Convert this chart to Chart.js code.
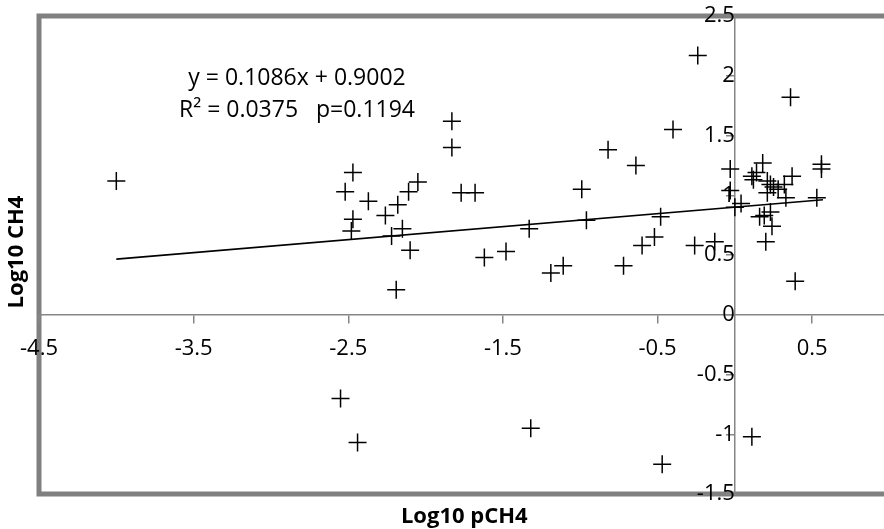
<!DOCTYPE html>
<html>
<head>
<meta charset="utf-8">
<script src="https://cdn.jsdelivr.net/npm/chart.js@4/dist/chart.umd.min.js"></script>
<style>
html,body{margin:0;padding:0;background:#fff;overflow:hidden;}
#wrap{width:884px;height:529px;overflow:hidden;}
</style>
</head>
<body>
<div id="wrap"><canvas id="ch4Chart" width="900" height="529"></canvas></div>
<script>
// log10 pCH4 (x) against log10 CH4 (y), one entry per sample
const logPCH4 = [
  -4.00,
  -2.52, -2.47, -2.37, -2.47, -2.48, -2.26, -2.18, -2.11, -2.05, -2.15, -2.22, -2.10, -2.19,
  -1.83, -1.83, -1.77, -1.68, -1.62, -1.48, -1.33, -1.19, -1.11, -0.99, -0.96, -0.82,
  -0.72, -0.64, -0.60, -0.52, -0.48, -0.40, -0.24, -0.26, -0.13, -0.03, -0.03, 0.00, 0.04,
  0.11, 0.12, 0.14, 0.18, 0.21, 0.23, 0.25, 0.21, 0.28, 0.32, 0.33, 0.37,
  0.19, 0.23, 0.24, 0.20, 0.16, 0.36, 0.39, 0.53, 0.56, 0.56,
  -2.55, -2.44, -1.32, -0.47, 0.11
];
const logCH4 = [
  1.12,
  1.03, 1.19, 0.95, 0.80, 0.70, 0.83, 0.92, 1.03, 1.11, 0.72, 0.66, 0.54, 0.21,
  1.62, 1.40, 1.02, 1.02, 0.48, 0.53, 0.72, 0.35, 0.41, 1.05, 0.79, 1.38,
  0.41, 1.25, 0.58, 0.65, 0.82, 1.55, 2.17, 0.58, 0.61, 1.22, 1.04, 0.90, 0.93,
  1.16, 1.13, 1.19, 1.27, 1.12, 1.09, 1.07, 1.02, 1.05, 1.09, 0.98, 1.16,
  0.83, 0.86, 0.74, 0.61, 0.82, 1.82, 0.28, 0.98, 1.26, 1.22,
  -0.70, -1.07, -0.95, -1.25, -1.02
];

const xTicks = [-4.5, -3.5, -2.5, -1.5, -0.5, 0.5];
const yTicks = [-1.5, -1, -0.5, 0, 0.5, 1, 1.5, 2, 2.5];

// linear fit, as printed on the chart
const slope = 0.1086;
const intercept = 0.9002;
const rSquared = 0.0375;
const pValue = 0.1194;
const trendX = [-4.0, 0.57];

const FONT = "'Open Sans', sans-serif";
const AXIS_GREY = '#868686';

const points = logPCH4.map((x,i)=>({x, y:logCH4[i]}));
const trend = trendX.map(x=>({x, y:slope*x+intercept}));

const frame = {
  id:'frame',
  beforeDraw(chart){
    const {ctx, chartArea:a} = chart;
    ctx.save();
    ctx.strokeStyle='#808080';
    ctx.lineWidth=5;
    ctx.strokeRect(a.left, a.top, a.right-a.left, a.bottom-a.top);
    ctx.restore();
  },
  afterDraw(chart){
    const {ctx, chartArea:a} = chart;
    ctx.save();
    ctx.fillStyle='#000';
    ctx.textAlign='center';
    ctx.textBaseline='middle';

    ctx.font=`23px ${FONT}`;
    ctx.fillText(`y = ${slope}x + ${intercept.toFixed(4)}`, 297, 78);
    ctx.fillText(`R² = ${rSquared}   p=${pValue}`, 297, 110);

    ctx.font=`bold 22px ${FONT}`;
    ctx.fillText('Log10 pCH4', (a.left+a.right)/2, 517);
    ctx.translate(17, 252);
    ctx.rotate(-Math.PI/2);
    ctx.fillText('Log10 CH4', 0, 0);
    ctx.restore();
  }
};

const tickFont = {family:FONT, size:22};
// axes sit inside the plot, so their labels must not push the plot edges in
const noEdgePadding = s=>{ s.paddingTop=0; s.paddingBottom=0; s.paddingLeft=0; s.paddingRight=0; };

new Chart(document.getElementById('ch4Chart'), {
  type:'scatter',
  data:{
    datasets:[
      {data:points, pointStyle:'cross', pointRadius:9, pointHoverRadius:9,
       borderColor:'#000', backgroundColor:'#000', borderWidth:1.5},
      {type:'line', data:trend, borderColor:'#000', borderWidth:1.6,
       pointRadius:0, fill:false, tension:0}
    ]
  },
  options:{
    responsive:false, animation:false, devicePixelRatio:1,
    layout:{padding:{left:39, top:16, right:7, bottom:35}},
    plugins:{legend:{display:false}, tooltip:{enabled:false}},
    scales:{
      x:{type:'linear', min:-4.5, max:1, position:{y:0},
         afterBuildTicks:s=>{ s.ticks = xTicks.map(v=>({value:v})); },
         afterFit:noEdgePadding,
         grid:{drawOnChartArea:false, drawTicks:true, tickLength:8, color:AXIS_GREY, lineWidth:1.5},
         border:{color:AXIS_GREY, width:1.5},
         ticks:{color:'#000', font:tickFont, padding:13, maxRotation:0, autoSkip:false, callback:v=>String(v)}},
      y:{type:'linear', min:-1.5, max:2.5, position:{x:0},
         afterBuildTicks:s=>{ s.ticks = yTicks.map(v=>({value:v})); },
         afterFit:noEdgePadding,
         grid:{drawOnChartArea:false, drawTicks:true, tickLength:8, color:AXIS_GREY, lineWidth:1.5},
         border:{color:AXIS_GREY, width:1.5},
         ticks:{color:'#000', font:tickFont, padding:16, autoSkip:false, callback:v=>String(v)}}
    }
  },
  plugins:[frame]
});
</script>
</body>
</html>
